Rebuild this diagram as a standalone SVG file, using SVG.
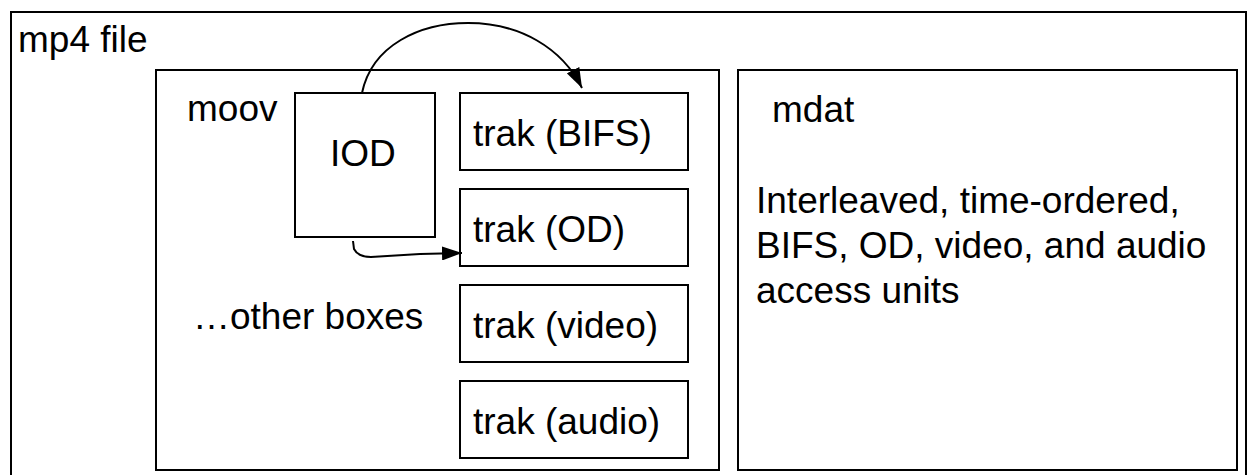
<svg xmlns="http://www.w3.org/2000/svg" width="1252" height="475" viewBox="0 0 1252 475">
<style>
.box{fill:#fff;stroke:#000;stroke-width:2}
.t{font-family:"Liberation Sans",Arial,sans-serif;font-size:37px;fill:#000}
.c{fill:none;stroke:#000;stroke-width:2}
</style>
<defs>
<marker id="ah" viewBox="0 0 10 10" refX="10" refY="5" markerWidth="10" markerHeight="10" markerUnits="userSpaceOnUse" orient="auto">
<path d="M0,0 L10,5 L0,10 z" fill="#000"/>
</marker>
<marker id="ah2" viewBox="0 0 20 14" refX="20" refY="7" markerWidth="20" markerHeight="14" markerUnits="userSpaceOnUse" orient="auto">
<path d="M0,0 L20,7 L0,14 z" fill="#000"/>
</marker>
</defs>
<rect width="1252" height="475" fill="#fff"/>
<g id="mp4file">
<rect class="box" x="11" y="12" width="1235" height="472"/>
<text class="t" x="18" y="52">mp4 file</text>
</g>
<g id="moov">
<rect class="box" x="156" y="70" width="563" height="400"/>
<text class="t" x="187" y="121">moov</text>
</g>
<g id="otherboxes">
<text class="t" x="193" y="329">…other boxes</text>
</g>
<g id="iod">
<rect class="box" x="295" y="93" width="140" height="144"/>
<text class="t" x="330" y="166">IOD</text>
</g>
<g id="trak-bifs">
<rect class="box" x="460" y="93" width="228" height="77"/>
<text class="t" x="473" y="146">trak (BIFS)</text>
</g>
<g id="trak-od">
<rect class="box" x="460" y="189" width="228" height="77"/>
<text class="t" x="473" y="242">trak (OD)</text>
</g>
<g id="trak-video">
<rect class="box" x="460" y="285" width="228" height="77"/>
<text class="t" x="473" y="338">trak (video)</text>
</g>
<g id="trak-audio">
<rect class="box" x="460" y="381" width="228" height="77"/>
<text class="t" x="473" y="434">trak (audio)</text>
</g>
<g id="mdat">
<rect class="box" x="738" y="70" width="499" height="400"/>
<text class="t" x="772" y="122">mdat</text>
<text class="t" x="756" y="213">Interleaved, time-ordered,</text>
<text class="t" x="756" y="258">BIFS, OD, video, and audio</text>
<text class="t" x="756" y="303">access units</text>
</g>
<g id="connectors">
<path class="c" d="M362,93 C372,45 420,23 468,23 C520,23 562,48 582,88" marker-end="url(#ah2)"/>
<path class="c" d="M353,241 L354,249 Q358,257 371,257 L420,254 L462,253" marker-end="url(#ah2)"/>
</g>
</svg>
